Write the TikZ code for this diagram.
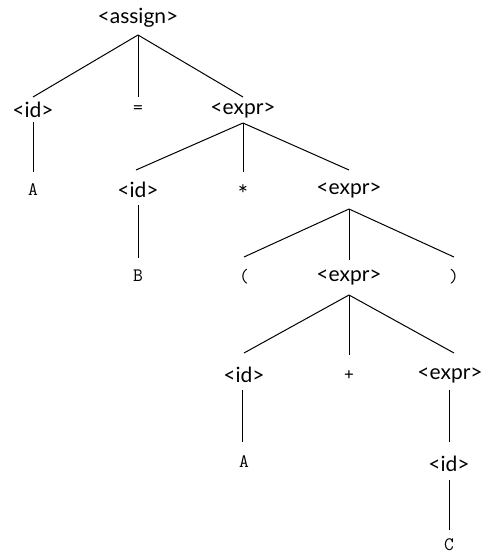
\documentclass[tikz,border=0pt]{standalone}
\usepackage{fontspec}
\setmainfont{Lato}
\begin{document}
\begin{tikzpicture}[x=1pt,y=-1pt,
  nt/.style={inner sep=0pt, font=\fontsize{21}{24}\selectfont},
  tm/.style={inner sep=0pt, font=\ttfamily\fontsize{19}{22}\selectfont},
  edge/.style={line width=1pt}]
\useasboundingbox (0,0) rectangle (483,554);
% nodes
\node[nt] (assign) at (138,18) {<assign>};
\node[nt] (id1) at (33,110) {<id>};
\node[tm] (eq) at (138,110) {=};
\node[nt] (e1) at (243,110) {<expr>};
\node[tm] (a1) at (33,190) {A};
\node[nt] (id2) at (138,190) {<id>};
\node[tm] (star) at (243,190) {*};
\node[nt] (e2) at (349,190) {<expr>};
\node[tm] (b) at (138,276) {B};
\node[tm] (lp) at (244,277) {(};
\node[nt] (e3) at (349,277) {<expr>};
\node[tm] (rp) at (454,277) {)};
\node[nt] (id3) at (244,375) {<id>};
\node[tm] (plus) at (349,375) {+};
\node[nt] (e4) at (450,375) {<expr>};
\node[tm] (a2) at (244,462) {A};
\node[nt] (id4) at (449,464) {<id>};
\node[tm] (c) at (449,545) {C};
% anchors
\coordinate (assignB) at (138,35);
\coordinate (e1B) at (243,123);
\coordinate (e2B) at (349,209);
\coordinate (e3B) at (349,295);
% edges
\draw[edge] (assignB) -- (33,97) coordinate (id1T);
\draw[edge] (assignB) -- (138,97) coordinate (eqT);
\draw[edge] (assignB) -- (243,97) coordinate (e1T);
\draw[edge] (33,122) coordinate (id1B) -- (33,172) coordinate (a1T);
\draw[edge] (e1B) -- (136,170) coordinate (id2T);
\draw[edge] (e1B) -- (243,172) coordinate (starT);
\draw[edge] (e1B) -- (349,170) coordinate (e2T);
\draw[edge] (138,205) coordinate (id2B) -- (138,258) coordinate (bT);
\draw[edge] (e2B) -- (244,257) coordinate (lpT);
\draw[edge] (e2B) -- (349,260) coordinate (e3T);
\draw[edge] (e2B) -- (454,257) coordinate (rpT);
\draw[edge] (e3B) -- (244,353) coordinate (id3T);
\draw[edge] (e3B) -- (349,355) coordinate (plusT);
\draw[edge] (e3B) -- (454,353) coordinate (e4T);
\draw[edge] (242,390) coordinate (id3B) -- (242,442) coordinate (a2T);
\draw[edge] (449,390) coordinate (e4B) -- (449,442) coordinate (id4T);
\draw[edge] (449,480) coordinate (id4B) -- (449,530) coordinate (cT);
\end{tikzpicture}
\end{document}
